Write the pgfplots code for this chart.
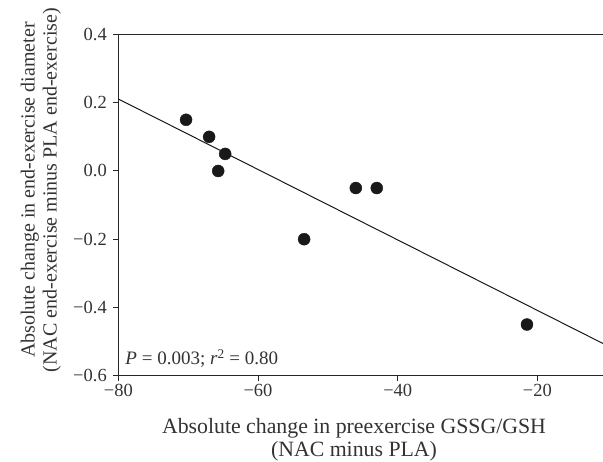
\documentclass[border=0pt]{standalone}
\usepackage{pgfplots}
\pgfplotsset{compat=1.18}
\usepackage{fontspec}
\setmainfont{Liberation Serif}

\begin{document}
\begin{tikzpicture}
% page = 603 x 462 px, 1pt per px, origin at lower left of axis box
\useasboundingbox (-118.3pt,-86.3pt) rectangle (484.7pt,375.7pt);
\begin{axis}[
    at={(0,0)},anchor=south west,
    scale only axis,
    width=489pt,height=341.2pt,
    xmin=-80,xmax=-10,
    ymin=-0.6,ymax=0.4,
    xtick={-80,-60,-40,-20},
    xticklabels={−80,−60,−40,−20},
    ytick={-0.6,-0.4,-0.2,0,0.2,0.4},
    yticklabels={−0.6,−0.4,−0.2,0.0,0.2,0.4},
    xtick pos=bottom,ytick pos=left,
    tick align=outside,
    major tick length=5pt,
    minor tick num=0,
    axis line style={line width=1.2pt,black!85},
    tick style={line width=1pt,black!85},
    tick label style={font=\fontsize{18.5}{21}\selectfont,text=black!80},
    yticklabel style={xshift=-3pt},
    label style={text=black!80,align=center},
    xlabel={Absolute change in preexercise GSSG/GSH\\(NAC minus PLA)},
    ylabel={Absolute change in end-exercise diameter\\(NAC end-exercise minus PLA end-exercise)},
    xlabel style={font=\fontsize{21.8}{23}\selectfont,
        at={(axis description cs:0.482,0)},anchor=north,yshift=-39pt},
    ylabel style={font=\fontsize{20}{22}\selectfont,
        at={(axis description cs:-0.1104,0.544)},anchor=south},
    clip=false,
]
% regression line
\addplot[black!90,line width=1pt] coordinates {(-80,0.211) (-10,-0.512)};
% individual subjects
\addplot[only marks,mark=*,mark size=6pt,black!90,mark options={fill=black!90}]
    coordinates {
        (-70.3,0.15)
        (-67.0,0.10)
        (-64.7,0.05)
        (-65.7,0.00)
        (-53.4,-0.20)
        (-46.0,-0.05)
        (-43.0,-0.05)
        (-21.5,-0.45)
    };
\node[anchor=base west,font=\fontsize{19}{21}\selectfont,text=black!80,inner sep=0pt]
    at (axis cs:-79,-0.568) {\textit{P} = 0.003; \textit{r}\textsuperscript{2} = 0.80};
\end{axis}
\end{tikzpicture}
\end{document}
